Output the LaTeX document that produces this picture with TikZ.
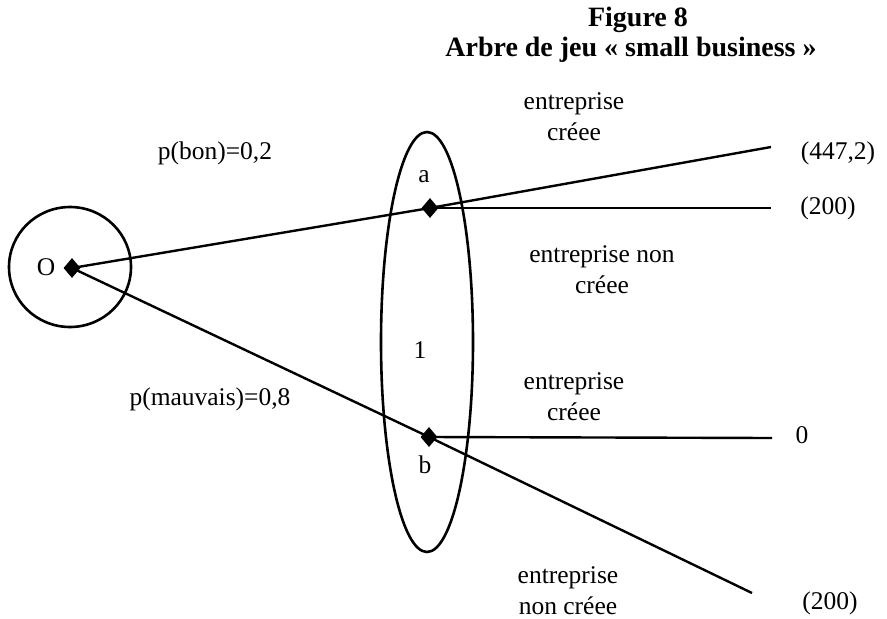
\documentclass[tikz,border=0pt]{standalone}
\usepackage{fontspec}
\setmainfont{Liberation Serif}
\usetikzlibrary{shapes.geometric}
\begin{document}
\begin{tikzpicture}[x=1pt,y=-1pt,
  txt/.style={inner sep=0pt, align=center, font=\fontsize{25.5}{31}\selectfont},
  ttl/.style={inner sep=0pt, font=\fontsize{28}{30}\selectfont\bfseries},
  dot/.style={diamond, fill=black, inner sep=0pt, minimum width=17pt, minimum height=20pt},
  branch/.style={line width=2.4pt},
  set/.style={line width=2.6pt}]
\useasboundingbox (0,0) rectangle (887,619);

% title
\node[ttl] (t1) at (638,20) {Figure 8};
\node[ttl] (t2) at (631,50) {Arbre de jeu « small business »};

% chance node and information set
\node[set, draw, ellipse, minimum width=122pt, minimum height=120pt, inner sep=0pt] (chance) at (70,267) {};
\node[set, draw, ellipse, minimum width=92pt, minimum height=420pt, inner sep=0pt] (info) at (427,342) {};

% decision points
\node[dot] (O) at (72,268) {};
\node[dot] (a) at (430,208) {};
\node[dot] (b) at (429,437) {};

% branch ends
\coordinate (ac) at (771,147);
\coordinate (an) at (771,208);
\coordinate (bc) at (772,438);
\coordinate (bn) at (752,593);

\draw[branch] (O.center) -- (a.center) -- (ac);
\draw[branch] (a.center) -- (an);
\draw[branch] (O.center) -- (b.center) -- (bn);
\draw[branch] (b.center) -- (bc);

% labels
\node[txt] (lO) at (46,267) {O};
\node[txt] (la) at (424,177) {a};
\node[txt] (lb) at (425,465) {b};
\node[txt] (l1) at (420,350) {1};
\node[txt] (pbon) at (215,153) {p(bon)=0,2};
\node[txt] (pmau) at (210,399) {p(mauvais)=0,8};
\node[txt] (m1) at (574,117) {entreprise\\créee};
\node[txt] (m2) at (602,270) {entreprise non\\créee};
\node[txt] (m3) at (574,397) {entreprise\\créee};
\node[txt] (m4) at (568,591) {entreprise\\non créee};

% payoffs
\node[txt] (v1) at (838,153) {(447,2)};
\node[txt] (v2) at (828,208) {(200)};
\node[txt] (v3) at (802,435) {0};
\node[txt] (v4) at (830,603) {(200)};
\end{tikzpicture}
\end{document}
